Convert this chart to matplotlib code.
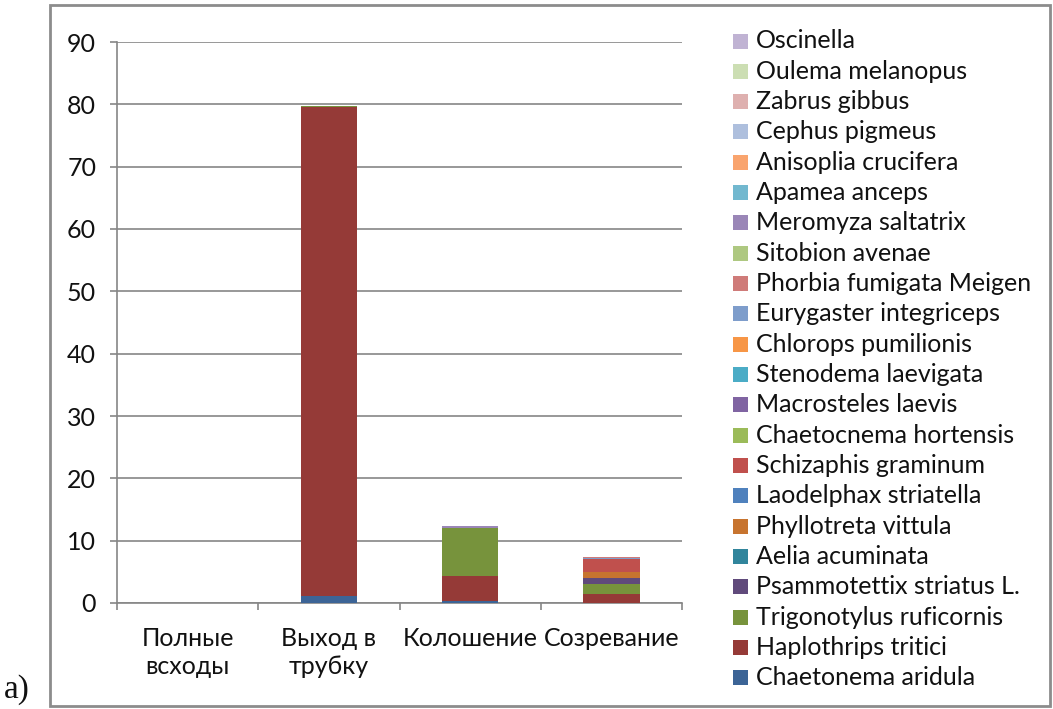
import numpy as np
import matplotlib.pyplot as plt
from matplotlib.patches import Rectangle

# growth stages (x categories)
stages = ["Полные\nвсходы", "Выход в\nтрубку", "Колошение", "Созревание"]

# species, in stacking order (bottom to top)
species = [
    "Chaetonema aridula", "Haplothrips tritici", "Trigonotylus ruficornis",
    "Psammotettix striatus L.", "Aelia acuminata", "Phyllotreta vittula",
    "Laodelphax striatella", "Schizaphis graminum", "Chaetocnema hortensis",
    "Macrosteles laevis", "Stenodema laevigata", "Chlorops pumilionis",
    "Eurygaster integriceps", "Phorbia fumigata Meigen", "Sitobion avenae",
    "Meromyza saltatrix", "Apamea anceps", "Anisoplia crucifera",
    "Cephus pigmeus", "Zabrus gibbus", "Oulema melanopus", "Oscinella",
]

# counts per stage for each species
chaetonema = [0, 1.2, 0.3, 0]
haplothrips = [0, 78.3, 4.1, 1.5]
trigonotylus = [0, 0.3, 7.6, 1.5]
psammotettix = [0, 0, 0, 1.0]
aelia = [0, 0, 0, 0]
phyllotreta = [0, 0, 0, 0.9]
laodelphax = [0, 0, 0, 0]
schizaphis = [0, 0, 0, 2.1]
chaetocnema = [0, 0, 0, 0]
macrosteles = [0, 0, 0, 0]
stenodema = [0, 0, 0, 0]
chlorops = [0, 0, 0, 0]
eurygaster = [0, 0, 0, 0.25]
phorbia = [0, 0, 0, 0.2]
sitobion = [0, 0, 0, 0]
meromyza = [0, 0, 0.4, 0]
apamea = [0, 0, 0, 0]
anisoplia = [0, 0, 0, 0]
cephus = [0, 0, 0, 0]
zabrus = [0, 0, 0, 0]
oulema = [0, 0, 0, 0]
oscinella = [0, 0, 0, 0]

values = [chaetonema, haplothrips, trigonotylus, psammotettix, aelia, phyllotreta,
          laodelphax, schizaphis, chaetocnema, macrosteles, stenodema, chlorops,
          eurygaster, phorbia, sitobion, meromyza, apamea, anisoplia,
          cephus, zabrus, oulema, oscinella]

colors = [
    "#3C6496", "#953A37", "#77933C", "#604A7B", "#31859C", "#C7742F",
    "#4F81BD", "#C0504D", "#9BBB59", "#8064A2", "#4BACC6", "#F79646",
    "#7E9DCB", "#CF7B79", "#AEC881", "#9A86B7", "#72B8CF", "#F9A46E",
    "#AEBFDD", "#DEB0AF", "#CCDEB3", "#C0B3D3",
]

FONT = ["Lato", "Open Sans", "DejaVu Sans"]
plt.rcParams["font.family"] = FONT
plt.rcParams["text.color"] = "#111111"
GRID = "#868686"
FS = 18
W, H = 1053, 709

fig = plt.figure(figsize=(W / 100, H / 100), dpi=100)
ax = fig.add_axes([117 / W, 1 - 603 / H, 565 / W, 561 / H])

x = np.arange(len(stages))
bottom = np.zeros(len(stages))
for vals, c in zip(values, colors):
    vals = np.array(vals, dtype=float)
    ax.bar(x, vals, width=0.4, bottom=bottom, color=c, linewidth=0, zorder=3)
    bottom += vals

ax.set_xlim(-0.5, len(stages) - 0.5)
ax.set_ylim(0, 90)
ax.set_yticks(np.arange(0, 91, 10))
ax.grid(axis="y", color=GRID, linewidth=1.2, zorder=0)
ax.set_axisbelow(True)

# category labels at centres, tick marks on the category boundaries
ax.set_xticks(np.arange(-0.5, len(stages), 1.0))
ax.set_xticklabels([])
ax.set_xticks(x, minor=True)
ax.set_xticklabels(stages, minor=True, fontsize=FS, linespacing=1.3)
ax.tick_params(axis="x", which="major", length=5, color=GRID, width=1.2)
ax.tick_params(axis="x", which="minor", length=0, pad=17)
ax.tick_params(axis="y", length=5, color=GRID, width=1.2, labelsize=FS, pad=10,
               labelcolor="#111111")
ax.tick_params(axis="x", labelcolor="#111111", which="both")

for s in ["top", "right"]:
    ax.spines[s].set_visible(False)
for s in ["left", "bottom"]:
    ax.spines[s].set_color(GRID)
    ax.spines[s].set_linewidth(1.2)

# legend, drawn top-down in reverse stacking order
for i, (name, c) in enumerate(zip(species[::-1], colors[::-1])):
    yc = 41 + i * 30.33
    fig.add_artist(Rectangle((733 / W, 1 - (yc + 7.5) / H), 15 / W, 15 / H,
                             transform=fig.transFigure, facecolor=c,
                             edgecolor="none"))
    fig.text(756 / W, 1 - yc / H, name, fontsize=FS, va="center", ha="left")

# outer frame
fig.add_artist(Rectangle((50 / W, 1 - 706 / H), 1000 / W, 701 / H,
                         transform=fig.transFigure, facecolor="none",
                         edgecolor="#8c8c8c", linewidth=2))
fig.text(4 / W, 1 - 690 / H, "a)", fontsize=24, family="Liberation Serif",
         va="center", ha="left")

fig.savefig("out.png", dpi=100)
